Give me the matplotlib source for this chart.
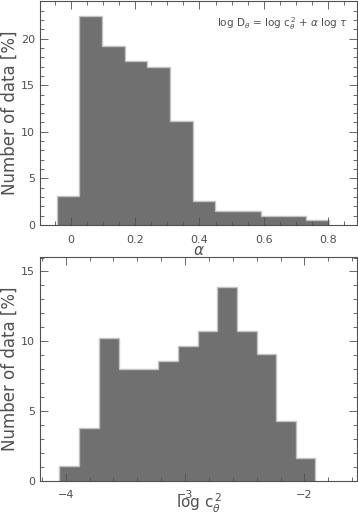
import numpy as np
import matplotlib
matplotlib.use("Agg")
import matplotlib.pyplot as plt
from matplotlib.ticker import MultipleLocator

# histogram of alpha (bin edges and heights in %)
alpha_edges = [-0.044, 0.026, 0.096, 0.168, 0.238, 0.308, 0.379, 0.449, 0.520, 0.590, 0.660, 0.731, 0.801]
alpha_pct = [3.1, 22.4, 19.2, 17.6, 17.0, 11.2, 2.6, 1.5, 1.5, 1.0, 1.0, 0.5]

# histogram of log c_theta^2
logc_edges = [-4.053, -3.886, -3.721, -3.557, -3.393, -3.226, -3.061, -2.894, -2.730, -2.566, -2.401, -2.237, -2.072, -1.908]
logc_pct = [1.08, 3.76, 10.2, 8.0, 8.0, 8.56, 9.64, 10.7, 13.9, 10.7, 9.1, 4.3, 1.6]

txt = '#505050'
bar_col = '#707070'
edge_col = '#c4c4c4'
plt.rcParams['font.family'] = 'DejaVu Sans'
plt.rcParams['text.color'] = txt
plt.rcParams['axes.labelcolor'] = txt
plt.rcParams['xtick.color'] = txt
plt.rcParams['ytick.color'] = txt
plt.rcParams['mathtext.fontset'] = 'dejavusans'

fig = plt.figure(figsize=(3.58, 5.14), dpi=100)
ax1 = fig.add_axes([0.112, 0.5623, 0.886, 0.436])
ax2 = fig.add_axes([0.112, 0.0648, 0.886, 0.435])

def style(ax):
    for s in ax.spines.values():
        s.set_color('#505050')
        s.set_linewidth(0.8)
    ax.tick_params(which='both', direction='in', top=True, right=True, labelsize=8, width=0.6)
    ax.tick_params(which='major', length=6)
    ax.tick_params(which='minor', length=3)
    ax.tick_params(axis='x', pad=7)

def hist(ax, edges, vals):
    # filled histogram with only the outer step outline
    ax.stairs(vals, edges, fill=True, color=bar_col, linewidth=0)
    ax.stairs(vals, edges, color=edge_col, linewidth=1.0)

# top panel
hist(ax1, alpha_edges, alpha_pct)
ax1.set_xlim(-0.095, 0.89)
ax1.set_ylim(0, 24.05)
ax1.xaxis.set_major_locator(MultipleLocator(0.2))
ax1.xaxis.set_minor_locator(MultipleLocator(0.05))
ax1.yaxis.set_major_locator(MultipleLocator(5))
ax1.yaxis.set_minor_locator(MultipleLocator(1))
ax1.set_xticks([0, 0.2, 0.4, 0.6, 0.8], ['0', '0.2', '0.4', '0.6', '0.8'])
style(ax1)
ax1.set_xlabel(r'$\alpha$', fontsize=11, labelpad=-1)
ax1.set_ylabel('Number of data [%]', fontsize=12, labelpad=2)
ax1.text(0.97, 0.9, r'log D$_\theta$ = log c$_\theta^{\,2}$ + $\alpha$ log $\tau$',
         transform=ax1.transAxes, ha='right', va='center', fontsize=7.5)

# bottom panel
hist(ax2, logc_edges, logc_pct)
ax2.set_xlim(-4.2145, -1.557)
ax2.set_ylim(0, 16.03)
ax2.xaxis.set_major_locator(MultipleLocator(1))
ax2.xaxis.set_minor_locator(MultipleLocator(0.2))
ax2.yaxis.set_major_locator(MultipleLocator(5))
ax2.yaxis.set_minor_locator(MultipleLocator(1))
ax2.set_xticks([-4, -3, -2], ['\u22124', '\u22123', '\u22122'])
style(ax2)
ax2.set_xlabel(r'log c$_\theta^{\,2}$', fontsize=11, labelpad=-6)
ax2.set_ylabel('Number of data [%]', fontsize=12, labelpad=2)

fig.savefig('out.png', dpi=100)
